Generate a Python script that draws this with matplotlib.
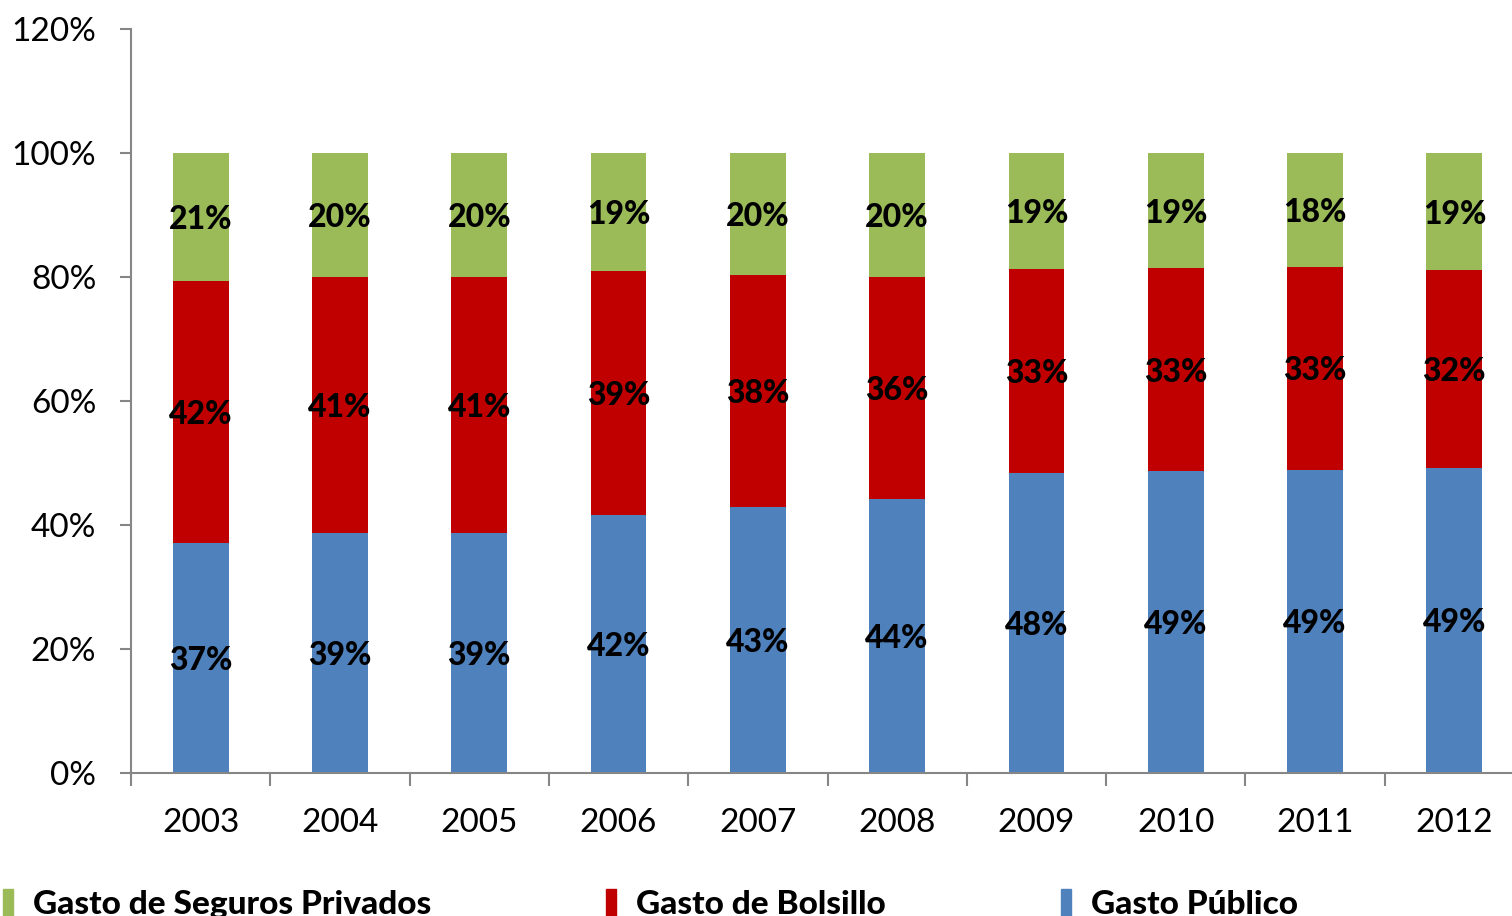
import matplotlib
matplotlib.use("Agg")
import matplotlib.pyplot as plt
from matplotlib.patches import Patch
import numpy as np

years = ["2003", "2004", "2005", "2006", "2007", "2008", "2009", "2010", "2011", "2012"]
gasto_publico = [37.1, 38.7, 38.7, 41.6, 42.9, 44.2, 48.4, 48.7, 48.9, 49.2]
gasto_bolsillo = [42.3, 41.3, 41.3, 39.4, 37.5, 35.8, 32.9, 32.7, 32.7, 31.9]
gasto_seguros = [20.6, 20.0, 20.0, 19.0, 19.6, 20.0, 18.7, 18.6, 18.4, 18.9]
yticks = [0, 20, 40, 60, 80, 100, 120]

c_blue = "#4F81BD"
c_red = "#C00000"
c_green = "#9BBB59"
axis_gray = "#868686"

plt.rcParams['font.family'] = ['Lato', 'DejaVu Sans']

fig = plt.figure(figsize=(15.12, 9.16), dpi=100)
ax = fig.add_axes([131/1512, 1-773/916, (1512-131)/1512, (773-29)/916])

x = np.arange(len(years))
w = 0.4
pub = np.array(gasto_publico)
bol = np.array(gasto_bolsillo)
seg = np.array(gasto_seguros)

b1 = ax.bar(x, pub, w, color=c_blue, edgecolor='none', zorder=2)
b2 = ax.bar(x, bol, w, bottom=pub, color=c_red, edgecolor='none', zorder=2)
b3 = ax.bar(x, seg, w, bottom=pub+bol, color=c_green, edgecolor='none', zorder=2)

for vals, bottoms in [(pub, np.zeros_like(pub)), (bol, pub), (seg, pub+bol)]:
    for xi, v, b in zip(x, vals, bottoms):
        ax.text(xi, b + v/2, f"{int(round(v))}%", ha='center', va='center_baseline',
                fontsize=23, fontweight='black', color='black', zorder=3)

ax.set_yticks(yticks)
ax.set_yticklabels([f"{v}%" for v in yticks], fontsize=24)
ax.set_xticks(x)
ax.set_xticklabels(years, fontsize=24)
ax.set_xticks(np.arange(-0.5, len(years), 1), minor=True)
ax.set_xlim(-0.5, -0.5 + (1512-131)/139.3)
ax.set_ylim(0, 120)
ax.tick_params(axis='x', which='major', length=0, pad=25)
ax.tick_params(axis='x', which='minor', length=9, width=1.5, color=axis_gray, direction='out')
ax.tick_params(axis='y', length=8, width=1.5, color=axis_gray, direction='out', pad=17)

for s in ['top', 'right']:
    ax.spines[s].set_visible(False)
for s in ['left', 'bottom']:
    ax.spines[s].set_color(axis_gray)
    ax.spines[s].set_linewidth(1.5)

handles = [Patch(color=c_green, label="Gasto de Seguros Privados"),
           Patch(color=c_red, label="Gasto de Bolsillo"),
           Patch(color=c_blue, label="Gasto Público")]
fig.legend(handles=handles, loc='center left', bbox_to_anchor=(0.002, 1-904/916),
           ncol=3, frameon=False, prop={'weight': 'black', 'size': 24},
           handlelength=0.3, handleheight=0.85, handletextpad=0.6,
           columnspacing=5.25, borderpad=0, borderaxespad=0)

fig.savefig("out.png", dpi=100)
